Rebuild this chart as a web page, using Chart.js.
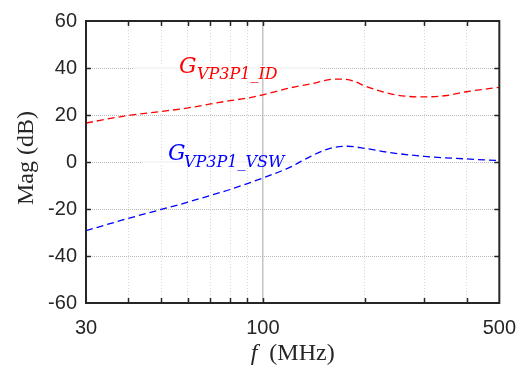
<!DOCTYPE html>
<html>
<head>
<meta charset="utf-8">
<script src="https://cdn.jsdelivr.net/npm/chart.js@4.4.0/dist/chart.umd.min.js"></script>
<style>
  html, body { margin: 0; padding: 0; background: #fff; }
  #wrap { width: 529px; height: 367px; position: relative; }
</style>
</head>
<body>
<div id="wrap"><canvas id="graphCanvas"></canvas></div>
<script>
// values (MHz, dB)
const freqID = [30, 40, 50, 60, 70, 80, 90, 100, 120, 140, 160, 170, 185, 200, 240, 270, 300, 350, 400, 500];
const magID = [16.6, 19.8, 21.5, 23.0, 24.7, 26.1, 27.2, 28.6, 31.5, 33.4, 35.2, 35.3, 34.5, 32.4, 28.9, 27.9, 27.7, 28.3, 29.9, 31.8];
const freqVSW = [30, 40, 50, 60, 70, 80, 90, 100, 120, 138, 158, 178, 200, 238, 300, 400, 500];
const magVSW = [-29.2, -24.0, -20.2, -17.1, -14.2, -11.7, -9.2, -6.8, -2.3, 2.3, 5.8, 6.7, 5.8, 4.0, 2.4, 1.3, 0.6];
const xTicks = [30, 40, 50, 60, 70, 80, 90, 100, 200, 300, 400, 500];
const xLabels = [30, 100, 500];
const yTicks = [-60, -40, -20, 0, 20, 40, 60];

const ctx = document.getElementById('graphCanvas').getContext('2d');
const axisColor = '#262626';
const tickFont = { family: 'Liberation Sans', size: 20 };

const framePlugin = {
  id: 'frame',
  beforeDatasetsDraw(chart) {
    const c = chart.ctx;
    const y = chart.scales.y;
    // text boxes of the labels hide part of the grid
    c.save();
    c.fillStyle = '#fff';
    c.fillRect(133, y.getPixelForValue(40) - 2, 187, 4);
    c.fillRect(141, y.getPixelForValue(0) - 2, 164, 4);
    c.strokeStyle = '#ececec';
    c.lineWidth = 1;
    c.beginPath();
    c.moveTo(133, y.getPixelForValue(40)); c.lineTo(320, y.getPixelForValue(40));
    c.moveTo(141, y.getPixelForValue(0)); c.lineTo(305, y.getPixelForValue(0));
    c.stroke();
    c.restore();
  },
  afterDraw(chart) {
    const c = chart.ctx;
    const a = chart.chartArea;
    const x = chart.scales.x;
    const y = chart.scales.y;
    c.save();
    c.strokeStyle = axisColor;
    c.lineWidth = 1.5;
    // inward ticks
    c.beginPath();
    xTicks.forEach(v => {
      if (v === 30 || v === 500) return;
      const px = Math.round(x.getPixelForValue(v)) + 0.5;
      c.moveTo(px, a.bottom); c.lineTo(px, a.bottom - 5);
      c.moveTo(px, a.top); c.lineTo(px, a.top + 5);
    });
    yTicks.forEach(v => {
      if (v === -60 || v === 60) return;
      const py = Math.round(y.getPixelForValue(v)) + 0.5;
      c.moveTo(a.left, py); c.lineTo(a.left + 5, py);
      c.moveTo(a.right, py); c.lineTo(a.right - 5, py);
    });
    c.stroke();
    c.lineWidth = 2;
    c.strokeRect(a.left, a.top, a.right - a.left, a.bottom - a.top);

    // curve labels
    c.textBaseline = 'alphabetic';
    c.textAlign = 'left';
    c.fillStyle = '#ff0000';
    c.font = 'italic 22px "DejaVu Serif"';
    c.fillText('G', 179, 72.5);
    c.font = 'italic 16px "DejaVu Serif"';
    c.fillText('VP3P1_ID', 197, 78.5);
    c.fillStyle = '#0000ff';
    c.font = 'italic 22px "DejaVu Serif"';
    c.fillText('G', 168, 159.5);
    c.font = 'italic 16px "DejaVu Serif"';
    c.fillText('VP3P1_VSW', 184, 166.5);

    // axis titles
    c.fillStyle = axisColor;
    c.font = 'italic 24px "Liberation Serif"';
    const fw = c.measureText('f').width;
    c.font = '24px "Liberation Serif"';
    const rest = '  (MHz)';
    const rw = c.measureText(rest).width;
    const cx = (a.left + a.right) / 2;
    const sx = cx - (fw + rw) / 2;
    c.font = 'italic 24px "Liberation Serif"';
    c.fillText('f', sx, 360);
    c.font = '24px "Liberation Serif"';
    c.fillText(rest, sx + fw, 360);

    c.translate(27, 158);
    c.rotate(-Math.PI / 2);
    c.textAlign = 'center';
    c.textBaseline = 'middle';
    c.fillText('Mag (dB)', 0, 0);
    c.restore();
  }
};

const chart = new Chart(ctx, {
  type: 'line',
  data: {
    datasets: [
      {
        label: 'G_VP3P1_ID',
        data: freqID.map((f, i) => ({ x: f, y: magID[i] })),
        borderColor: '#ff0000',
        borderWidth: 1.3,
        borderDash: [7, 4],
        cubicInterpolationMode: 'monotone',
        pointRadius: 0,
        fill: false
      },
      {
        label: 'G_VP3P1_VSW',
        data: freqVSW.map((f, i) => ({ x: f, y: magVSW[i] })),
        borderColor: '#0000ff',
        borderWidth: 1.3,
        borderDash: [7, 4],
        cubicInterpolationMode: 'monotone',
        pointRadius: 0,
        fill: false
      }
    ]
  },
  options: {
    responsive: true,
    maintainAspectRatio: false,
    animation: false,
    layout: { padding: { top: 17, right: 28, left: 0, bottom: 0 } },
    plugins: { legend: { display: false }, tooltip: { enabled: false } },
    scales: {
      x: {
        type: 'logarithmic',
        min: 30,
        max: 500,
        afterBuildTicks: s => { s.ticks = xTicks.map(v => ({ value: v })); },
        afterFit: s => { s.height = 64; },
        ticks: {
          autoSkip: false,
          maxRotation: 0,
          padding: 13,
          color: axisColor,
          font: tickFont,
          callback: v => (xLabels.includes(v) ? String(v) : '')
        },
        grid: {
          drawTicks: false,
          color: c => (c.tick && c.tick.value === 100 ? '#c4c4c4' : '#d6d6d6'),
          lineWidth: c => (c.tick && c.tick.value === 100 ? 1.5 : 1)
        },
        border: {
          display: false,
          dash: c => (c.tick && c.tick.value === 100 ? [] : [1, 2])
        }
      },
      y: {
        min: -60,
        max: 60,
        afterBuildTicks: s => { s.ticks = yTicks.map(v => ({ value: v })); },
        afterFit: s => { s.width = 86; },
        ticks: { padding: 9, color: axisColor, font: tickFont },
        grid: { drawTicks: false, color: '#b8b8b8' },
        border: { display: false, dash: [1, 1] }
      }
    }
  },
  plugins: [framePlugin]
});
</script>
</body>
</html>
